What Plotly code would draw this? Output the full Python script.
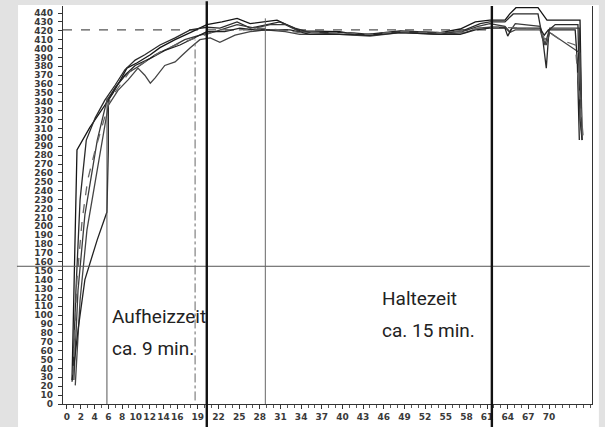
import plotly.graph_objects as go

# ---- tick labels ----
x_tick_vals = [0, 2, 4, 6, 8, 10, 12, 14, 16, 19, 22, 25, 28, 31, 34, 37, 40, 43,
               46, 49, 52, 55, 58, 61, 64, 67, 70]
y_tick_vals = list(range(0, 441, 10))

# ---- thermocouple curves (time in min, temperature) ----
t1 = [0.73, 1.0, 1.3, 1.45, 3.3, 5.1, 6.7, 8.0, 8.7, 10.2, 12.1, 13.5, 15.7, 17.9, 20.3,
      22.5, 24.7, 26.6, 28.8, 30.5, 32.4, 33.8, 39.6, 42.5, 48.4, 54.2, 57.1, 59.3, 61.4,
      63.6, 64.3, 65.2, 68.4, 69.0, 69.7, 73.8, 74.5, 74.8]
v1 = [27, 117, 230, 286, 311, 331, 350, 368, 378, 384, 393, 401, 410, 418, 427,
      430, 434, 428, 430, 432, 425, 420, 419, 415, 420, 418, 422, 430, 432,
      432, 439, 446, 446, 439, 432, 432, 432, 297]

t2 = [0.87, 1.3, 1.9, 2.8, 4.1, 5.5, 7.0, 8.4, 9.9, 11.3, 13.5, 15.7, 17.9, 20.3, 22.2,
      24.7, 26.6, 28.8, 30.9, 33.1, 35.3, 41.1, 44.0, 48.4, 54.2, 57.8, 60.0, 61.4, 63.6,
      64.8, 68.4, 69.1, 69.6, 70.0, 70.9, 73.8, 74.2, 74.5, 74.8]
v2 = [38, 128, 230, 297, 322, 342, 359, 376, 387, 393, 404, 412, 421, 424, 423,
      430, 423, 427, 430, 423, 418, 418, 416, 419, 416, 421, 428, 430, 430,
      439, 439, 410, 378, 421, 427, 427, 427, 320, 297]

t3 = [1.0, 1.6, 2.6, 4.4, 5.8, 7.3, 8.7, 10.6, 12.8, 15.0, 17.1, 19.3, 21.5, 24.7, 27.3,
      29.5, 31.7, 33.8, 39.6, 44.0, 48.4, 54.2, 57.4, 59.7, 61.4, 63.6, 64.3, 65.1, 68.7,
      69.4, 70.1, 73.8, 74.4, 74.7]
v3 = [27, 128, 213, 297, 342, 359, 372, 381, 393, 401, 410, 415, 419, 427, 423,
      427, 427, 419, 416, 415, 419, 418, 419, 425, 428, 425, 419, 428, 425,
      404, 423, 423, 423, 308]

t4 = [1.2, 1.9, 2.9, 4.1, 5.1, 6.0, 7.4, 8.9, 10.3, 11.3, 12.1, 12.8, 14.2, 15.7, 16.8,
      17.9, 19.3, 20.8, 22.2, 24.4, 26.6, 28.8, 31.7, 33.8, 39.6, 44.0, 48.4, 54.2, 57.8,
      59.7, 61.4, 63.6, 64.3, 65.1, 68.7, 69.1, 69.6, 70.1, 74.5, 74.8]
v4 = [21, 117, 196, 252, 297, 336, 353, 365, 378, 370, 361, 367, 381, 385, 393,
      401, 410, 412, 407, 415, 419, 421, 419, 416, 416, 414, 418, 416, 418,
      423, 424, 424, 418, 421, 421, 410, 404, 418, 395, 302]

t5 = [0.73, 1.6, 2.6, 4.4, 5.8, 6.0, 6.0, 7.0, 8.4, 9.9, 12.1, 14.2, 16.4, 18.6, 20.3,
      22.9, 25.1, 27.3, 29.5, 32.4, 35.3, 41.1, 44.0, 48.4, 54.2, 57.1, 59.3, 61.4, 63.6,
      64.0, 64.6, 68.7, 69.3, 69.9, 73.8, 74.1, 74.4]
v5 = [25, 83, 140, 185, 216, 286, 342, 356, 370, 381, 389, 398, 404, 412, 419,
      419, 423, 421, 421, 421, 416, 416, 415, 418, 416, 416, 421, 423, 423,
      414, 423, 423, 415, 421, 421, 387, 297]

t6 = [0.87, 1.45, 2.2, 3.0, 4.1, 5.1, 6.2, 7.7, 9.1, 11.3, 13.5, 15.7, 17.9, 20.0, 22.2,
      25.1, 28.0, 30.9, 33.8, 39.6, 44.0, 48.4, 54.2, 58.5, 60.7, 62.9, 65.8, 68.7, 69.4,
      70.1, 71.6, 73.8, 75.0]
v6 = [33, 140, 207, 252, 286, 314, 342, 359, 374, 385, 396, 404, 410, 415, 421,
      421, 423, 421, 418, 418, 416, 419, 418, 421, 424, 424, 423, 421, 410,
      418, 410, 404, 297]

# ---- reference lines ----
target_temp = 421      # dashed horizontal
base_temp = 155        # thin horizontal
t_thin_left = 5.8      # thin vertical
t_dashdot = 18.6       # dash-dot vertical
t_heat_end = 20.3      # thick vertical
t_thin_mid = 28.8      # thin vertical
t_hold_end = 61.7      # thick vertical

curves = [
    (t1, v1, "#151515", "solid"),
    (t2, v2, "#2a2a2a", "solid"),
    (t3, v3, "#3a3a3a", "solid"),
    (t4, v4, "#444444", "solid"),
    (t5, v5, "#222222", "solid"),
    (t6, v6, "#666666", "dash"),
]

fig = go.Figure()
for t, v, c, d in curves:
    fig.add_trace(go.Scatter(x=t, y=v, mode="lines",
                             line=dict(color=c, width=1.3, dash=d),
                             showlegend=False, hoverinfo="skip"))

shapes = [
    # white sheet on grey page
    dict(type="rect", xref="paper", yref="paper", x0=-0.085, x1=1.013, y0=-0.06, y1=1.0025,
         fillcolor="white", line=dict(width=0), layer="below"),
    # dashed target line
    dict(type="line", xref="x", yref="y", x0=-0.58, x1=t_hold_end, y0=target_temp, y1=target_temp,
         line=dict(color="#555555", width=1.2, dash="dash"), layer="below"),
    # thin horizontal
    dict(type="line", xref="paper", yref="y", x0=-0.087, x1=0.996, y0=base_temp, y1=base_temp,
         line=dict(color="#555555", width=1)),
    # thin verticals
    dict(type="line", xref="x", yref="y", x0=t_thin_left, x1=t_thin_left, y0=0, y1=345,
         line=dict(color="#555555", width=1)),
    dict(type="line", xref="x", yref="y", x0=t_thin_mid, x1=t_thin_mid, y0=0, y1=434,
         line=dict(color="#666666", width=1)),
    # dash-dot vertical
    dict(type="line", xref="x", yref="y", x0=t_dashdot, x1=t_dashdot, y0=4, y1=410,
         line=dict(color="#666666", width=1, dash="dashdot")),
    # thick verticals
    dict(type="line", xref="x", yref="paper", x0=t_heat_end, x1=t_heat_end, y0=-0.06, y1=1.012,
         line=dict(color="#111111", width=2.4)),
    dict(type="line", xref="x", yref="paper", x0=t_hold_end, x1=t_hold_end, y0=-0.06, y1=1.0,
         line=dict(color="#111111", width=2.4)),
]

ann_font = dict(family="Roboto, Liberation Sans, Arial", size=19, color="#222222")
annotations = [
    dict(x=6.24, y=99, text="Aufheizzeit", xref="x", yref="y", showarrow=False,
         xanchor="left", yanchor="middle", font=ann_font),
    dict(x=6.24, y=63, text="ca. 9 min.", xref="x", yref="y", showarrow=False,
         xanchor="left", yanchor="middle", font=ann_font),
    dict(x=45.45, y=119, text="Haltezeit", xref="x", yref="y", showarrow=False,
         xanchor="left", yanchor="middle", font=ann_font),
    dict(x=45.45, y=83, text="ca. 15 min.", xref="x", yref="y", showarrow=False,
         xanchor="left", yanchor="middle", font=ann_font),
]

tick_font = dict(family="DejaVu Sans", size=9, color="#3a3a3a", weight="bold")

fig.update_layout(
    width=605, height=427, autosize=False,
    margin=dict(l=63, r=13, t=6, b=23, pad=0),
    paper_bgcolor="#e2e2e2", plot_bgcolor="white",
    shapes=shapes, annotations=annotations,
    xaxis=dict(range=[-0.58, 76.24], tickmode="array", tickvals=x_tick_vals,
               ticktext=[str(v) for v in x_tick_vals], tickangle=0,
               showgrid=False, zeroline=False, showline=True, linecolor="#333333",
               linewidth=1.4, ticks="outside", ticklen=4, tickcolor="#333333",
               tickfont=tick_font,
               minor=dict(dtick=1, tick0=0, ticks="outside", ticklen=3,
                          tickcolor="#555555", showgrid=False)),
    yaxis=dict(range=[0, 447.9], tickmode="array", tickvals=y_tick_vals,
               ticktext=[str(v) for v in y_tick_vals],
               showgrid=False, zeroline=False, showline=True, linecolor="#333333",
               linewidth=1.4, mirror=True, ticks="outside", ticklen=4,
               tickcolor="#333333", tickfont=tick_font, ticklabelstandoff=3),
)

fig.write_html("out.html")
